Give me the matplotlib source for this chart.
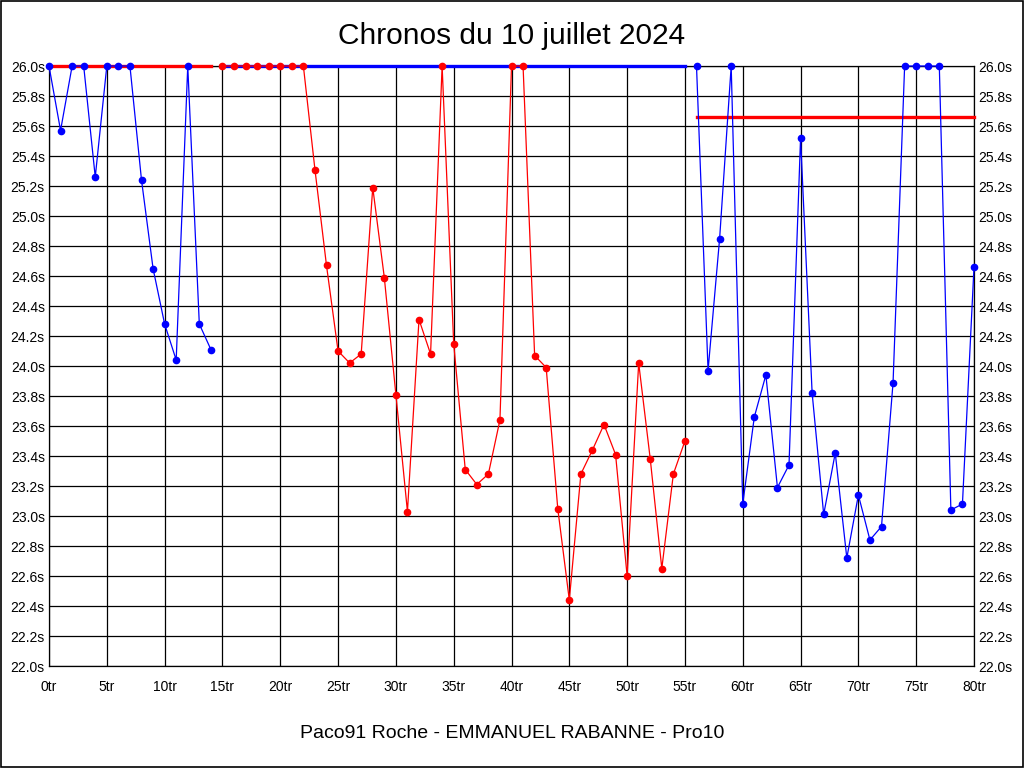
import matplotlib
matplotlib.use("Agg")
import matplotlib.pyplot as plt
import numpy as np

plt.rcParams['font.family'] = ['Liberation Sans', 'DejaVu Sans']

# tours et chronos (valeurs > 26.0s affichees a 26.0s)
laps_a = list(range(0, 15))
times_a = [26.0, 25.57, 26.0, 26.0, 25.26, 26.0, 26.0, 26.0, 25.24, 24.65,
           24.28, 24.04, 26.0, 24.28, 24.11]

laps_b = list(range(15, 56))
times_b = [26.0, 26.0, 26.0, 26.0, 26.0, 26.0, 26.0, 26.0, 25.31, 24.67,
           24.10, 24.02, 24.08, 25.19, 24.59, 23.81, 23.03, 24.31, 24.08, 26.0,
           24.15, 23.31, 23.21, 23.28, 23.64, 26.0, 26.0, 24.07, 23.99, 23.05,
           22.44, 23.28, 23.44, 23.61, 23.41, 22.60, 24.02, 23.38, 22.65, 23.28,
           23.50]

laps_c = list(range(56, 81))
times_c = [26.0, 23.97, 24.85, 26.0, 23.08, 23.66, 23.94, 23.19, 23.34, 25.52,
           23.82, 23.01, 23.42, 22.72, 23.14, 22.84, 22.93, 23.89, 26.0, 26.0,
           26.0, 26.0, 23.04, 23.08, 24.66]

# moyennes (segments horizontaux)
avg_red_1 = (0, 14, 26.0)
avg_blue = (15, 55, 26.0)
avg_red_2 = (56, 80, 25.66)

x_ticks = range(0, 81, 5)
y_ticks = np.arange(22.0, 26.01, 0.2)

fig = plt.figure(figsize=(10.24, 7.68), dpi=100)
ax = fig.add_axes([49/1024, 1 - 666/768, 925/1024, 600/768])

blue = "#0000ff"
red = "#ff0000"

for seg, col in [(avg_red_1, red), (avg_blue, blue), (avg_red_2, red)]:
    ax.plot([seg[0], seg[1]], [seg[2], seg[2]], color=col, lw=2.4, zorder=3,
            clip_on=False)

ax.plot(laps_a, times_a, color=blue, lw=0.9, marker="o", ms=4.5, zorder=4, clip_on=False)
ax.plot(laps_b, times_b, color=red, lw=0.9, marker="o", ms=4.5, zorder=4, clip_on=False)
ax.plot(laps_c, times_c, color=blue, lw=0.9, marker="o", ms=4.5, zorder=4, clip_on=False)

ax.set_xlim(0, 80)
ax.set_ylim(22.0, 26.0)
ax.set_xticks(list(x_ticks))
ax.set_xticklabels(["{}tr".format(t) for t in x_ticks])
ax.set_yticks(y_ticks)
ax.set_yticklabels(["{:.1f}s".format(v) for v in y_ticks])
ax.tick_params(axis="both", length=0, labelsize=10, pad=3)
ax.tick_params(axis="y", right=True, labelright=True)
ax.tick_params(axis="x", pad=10)
ax.grid(True, color="black", lw=0.9)
ax.set_axisbelow(True)
for s in ax.spines.values():
    s.set_color("black")
    s.set_linewidth(0.9)

fig.text(0.5, 1 - 36/768, "Chronos du 10 juillet 2024", ha="center", va="center", fontsize=21.5)
fig.text(0.5, 1 - 733/768, "Paco91 Roche - EMMANUEL RABANNE - Pro10", ha="center",
         va="center", fontsize=14)

fig.patches.append(plt.Rectangle((0.0005, 0.0007), 0.999, 0.9986, transform=fig.transFigure,
                                 fill=False, edgecolor="black", lw=1.2))

fig.savefig("out.png", dpi=100)
